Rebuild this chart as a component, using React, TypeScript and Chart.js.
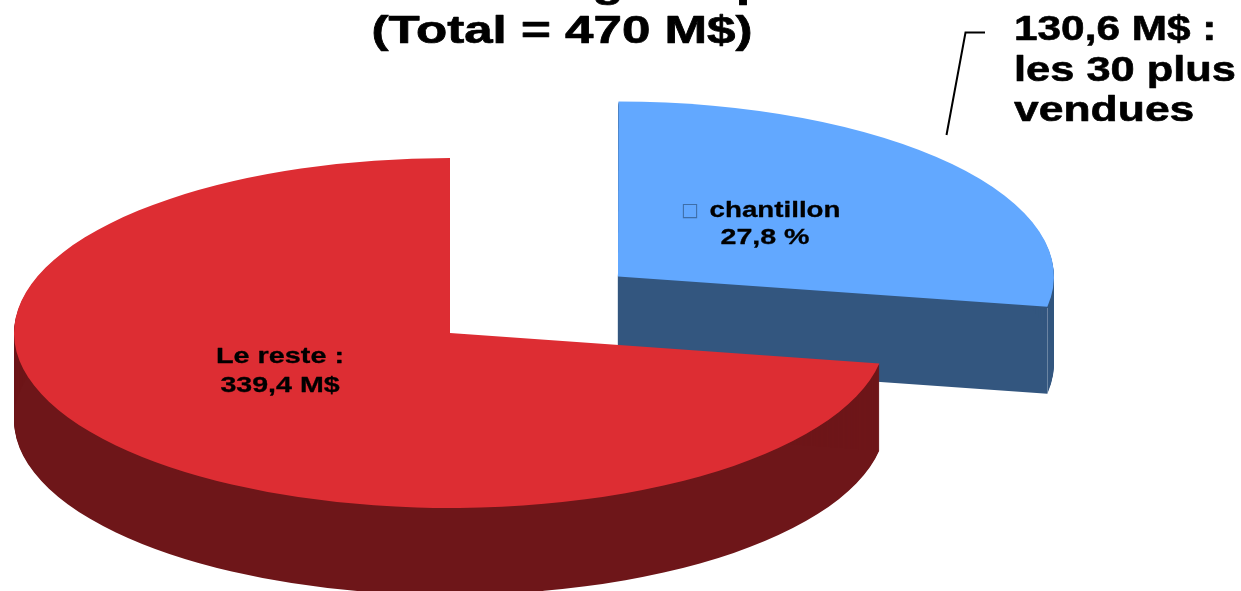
import React, { useEffect, useRef } from "react";
import { Chart, registerables } from "chart.js";

Chart.register(...registerables);

const categories = ["Échantillon", "Le reste"];
const values = [130.6, 339.4];
const topColors = ["#62A8FF", "#DD2D33"];
const sideColors = ["#33567F", "#6E1619"];
const sliceOffsets = [296.31, 0];

const W = 1241;
const H = 591;
const FONT = '"Liberation Sans", Arial, sans-serif';

const CX = 450;
const CY = 333;
const RX = 436;
const RY = 175;
const DEPTH = 87;

type Label = { text: string; x: number; y: number; size: number; sx: number; align: CanvasTextAlign; heavy?: number; color?: string; font?: string };

const titleLabels: Label[] = [
  { text: "g", x: 608, y: -3.5, size: 38, sx: 1.33, align: "center", heavy: 0.7 },
  { text: "p", x: 736, y: -3.5, size: 38, sx: 1.33, align: "left", heavy: 0.7 },
  { text: "(Total = 470 M$)", x: 562, y: 43, size: 38, sx: 1.345, align: "center", heavy: 0.7 },
];
const calloutLabels: Label[] = [
  { text: "130,6 M$ :", x: 1014, y: 40, size: 35, sx: 1.21, align: "left", heavy: 0.6 },
  { text: "les 30 plus", x: 1014, y: 81, size: 35, sx: 1.24, align: "left", heavy: 0.6 },
  { text: "vendues", x: 1014, y: 121, size: 35, sx: 1.27, align: "left", heavy: 0.6 },
];
const sliceLabels: Label[] = [
  { text: "□", x: 690, y: 216, size: 19, sx: 1, align: "center", color: "#3E6EA8", font: '"DejaVu Sans"' },
  { text: "chantillon", x: 775, y: 217, size: 22, sx: 1.26, align: "center", heavy: 0.3 },
  { text: "27,8 %", x: 765, y: 244, size: 22, sx: 1.3, align: "center", heavy: 0.3 },
  { text: "Le reste :", x: 280, y: 363, size: 22, sx: 1.31, align: "center", heavy: 0.3 },
  { text: "339,4 M$", x: 280, y: 392, size: 22, sx: 1.3, align: "center", heavy: 0.3 },
];

const pie3d = {
  id: "pie3d",
  beforeDatasetDraw(chart: any, args: any) {
    const ctx: CanvasRenderingContext2D = chart.ctx;
    const arcs = args.meta.data;
    arcs.forEach((arc: any, i: number) => {
      const k = RX / arc.outerRadius;
      const place = (dy: number) => {
        ctx.translate(CX, CY + dy);
        ctx.scale(k, (k * RY) / RX);
        ctx.translate(-arc.x, -arc.y);
      };
      // Arc.draw grows an offset slice's radius a little; take that back.
      const own = arc.options;
      const ownRadius = arc.outerRadius;
      const fix = 1 - Math.sin(Math.min(Math.PI, arc.circumference));
      arc.outerRadius = ownRadius - ((own.offset || 0) / 4) * fix;
      arc.options = { ...own, backgroundColor: sideColors[i] };
      for (let d = 1; d <= DEPTH; d++) {
        ctx.save();
        place(d);
        arc.draw(ctx);
        ctx.restore();
      }
      arc.options = own;
      ctx.save();
      place(0);
      arc.draw(ctx);
      ctx.restore();
      arc.outerRadius = ownRadius;
    });
    return false;
  },
  afterDraw(chart: any) {
    const ctx: CanvasRenderingContext2D = chart.ctx;
    ctx.save();
    ctx.strokeStyle = "rgba(255,255,255,0.28)";
    ctx.lineWidth = 1;
    ctx.beginPath();
    ctx.moveTo(1047.5, 308);
    ctx.lineTo(1047.5, 393);
    ctx.stroke();
    ctx.strokeStyle = "#000";
    ctx.lineWidth = 2;
    ctx.beginPath();
    ctx.moveTo(946.5, 135);
    ctx.lineTo(965.5, 32.5);
    ctx.lineTo(985, 32.5);
    ctx.stroke();
    ctx.restore();
    for (const l of [...titleLabels, ...calloutLabels, ...sliceLabels]) {
      ctx.save();
      ctx.translate(l.x, l.y);
      ctx.scale(l.sx, 1);
      ctx.font = `${l.font ? "" : "bold "}${l.size}px ${l.font || FONT}`;
      ctx.fillStyle = l.color || "#000";
      ctx.textAlign = l.align;
      ctx.textBaseline = "alphabetic";
      if (l.heavy) {
        ctx.strokeStyle = ctx.fillStyle;
        ctx.lineWidth = l.heavy;
        ctx.lineJoin = "round";
        ctx.strokeText(l.text, 0, 0);
      }
      ctx.fillText(l.text, 0, 0);
      ctx.restore();
    }
  },
};

export default function App() {
  const ref = useRef<HTMLCanvasElement>(null);
  useEffect(() => {
    document.body.style.margin = "0";
    document.body.style.background = "#fff";
    document.body.style.overflow = "hidden";
    const chart = new Chart(ref.current!, {
      type: "pie",
      data: {
        labels: categories,
        datasets: [
          {
            data: values,
            backgroundColor: topColors,
            borderWidth: 0,
            offset: sliceOffsets,
          },
        ],
      },
      options: {
        responsive: false,
        animation: false,
        rotation: 0,
        events: [],
        layout: { padding: 0 },
        plugins: { legend: { display: false }, tooltip: { enabled: false }, title: { display: false } },
      },
      plugins: [pie3d],
    } as any);
    return () => chart.destroy();
  }, []);
  return <canvas ref={ref} width={W} height={H} style={{ display: "block", width: W, height: H }} />;
}
